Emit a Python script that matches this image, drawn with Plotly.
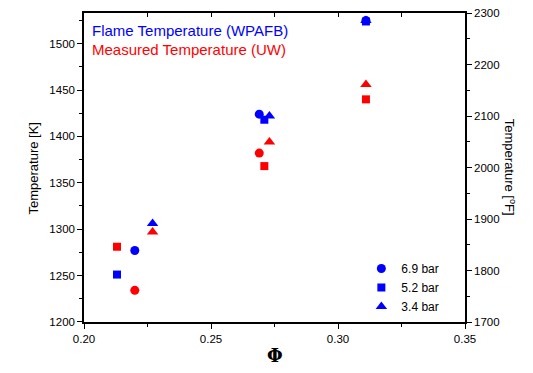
import plotly.graph_objects as go

# Data: equivalence ratio vs temperature [K]
pressures = ["6.9 bar", "5.2 bar", "3.4 bar"]
symbols = ["circle", "square", "triangle-up"]

flame_phi = {"6.9 bar": [0.220, 0.269, 0.311],
             "5.2 bar": [0.213, 0.271, 0.311],
             "3.4 bar": [0.227, 0.273, 0.311]}
flame_T = {"6.9 bar": [1277, 1424, 1525],
           "5.2 bar": [1251, 1418, 1524],
           "3.4 bar": [1306, 1422, 1525]}

meas_phi = {"6.9 bar": [0.220, 0.269],
            "5.2 bar": [0.213, 0.271, 0.311],
            "3.4 bar": [0.227, 0.273, 0.311]}
meas_T = {"6.9 bar": [1234, 1382],
          "5.2 bar": [1281, 1368, 1440],
          "3.4 bar": [1297, 1394, 1456]}

BLUE = "#0000ff"
RED = "#ff0000"
sizes = {"circle": 9, "square": 8, "triangle-up": 10}

fig = go.Figure()
for p, s in zip(pressures, symbols):
    fig.add_trace(go.Scatter(x=meas_phi[p], y=meas_T[p], mode="markers",
                             marker=dict(symbol=s, color=RED, size=sizes[s]),
                             showlegend=False))
for p, s in zip(pressures, symbols):
    fig.add_trace(go.Scatter(x=flame_phi[p], y=flame_T[p], mode="markers",
                             marker=dict(symbol=s, color=BLUE, size=sizes[s]),
                             showlegend=False))
for p, s in zip(pressures, symbols):
    fig.add_trace(go.Scatter(x=[None], y=[None], mode="markers", name=p,
                             marker=dict(symbol=s, color=BLUE, size=sizes[s])))
# dummy traces to activate secondary axes
fig.add_trace(go.Scatter(x=[None], y=[None], yaxis="y2", showlegend=False, hoverinfo="skip"))
fig.add_trace(go.Scatter(x=[None], y=[None], xaxis="x2", showlegend=False, hoverinfo="skip"))

FONT = "Liberation Sans, Arial, sans-serif"
tickfont = dict(family=FONT, size=11.5, color="black")
fmin, fmax = 1700, 2300
kmin, kmax = (fmin + 459.67) / 1.8, (fmax + 459.67) / 1.8

fig.update_layout(
    width=533, height=373,
    margin=dict(l=84, r=68, t=13, b=51),
    paper_bgcolor="white", plot_bgcolor="white",
    font=dict(family=FONT, size=12, color="black"),
    xaxis=dict(range=[0.20, 0.35], dtick=0.05, tickformat=".2f", automargin=False,
               showline=True, linecolor="black", linewidth=1.5,
               ticks="outside", ticklen=5, tickwidth=1, tickcolor="black",
               minor=dict(dtick=0.025, ticks="outside", ticklen=3, tickcolor="black"),
               showgrid=False, zeroline=False, tickfont=tickfont),
    xaxis2=dict(range=[0.20, 0.35], overlaying="x", side="top", dtick=0.025, automargin=False,
                showticklabels=False, showline=True, linecolor="black", linewidth=1.5,
                ticks="inside", ticklen=4, tickcolor="black", showgrid=False, zeroline=False),
    yaxis=dict(range=[kmin, kmax], dtick=50, tick0=1200, automargin=False,
               showline=True, linecolor="black", linewidth=1.5,
               ticks="outside", ticklen=5, tickcolor="black",
               minor=dict(dtick=25, ticks="outside", ticklen=3, tickcolor="black"),
               showgrid=False, zeroline=False, tickfont=tickfont),
    yaxis2=dict(range=[fmin, fmax], overlaying="y", side="right", dtick=100,
                tick0=1700, automargin=False,
                showline=True, linecolor="black", linewidth=1.5,
                ticks="outside", ticklen=5, tickcolor="black",
                minor=dict(dtick=50, ticks="outside", ticklen=3, tickcolor="black"),
                showgrid=False, zeroline=False, tickfont=tickfont),
    legend=dict(x=0.728, y=0.22, xanchor="left", yanchor="top",
                bgcolor="rgba(0,0,0,0)", font=dict(size=12),
                tracegroupgap=0, itemsizing="trace"),
    annotations=[
        dict(text="Flame Temperature (WPAFB)", x=0.016, y=0.944, xref="paper", yref="paper",
             xanchor="left", yanchor="middle", showarrow=False,
             font=dict(size=15, color=BLUE)),
        dict(text="Measured Temperature (UW)", x=0.016, y=0.883, xref="paper", yref="paper",
             xanchor="left", yanchor="middle", showarrow=False,
             font=dict(size=15, color=RED)),
        dict(text="Temperature [K]", x=(33 - 84) / (533 - 84 - 68), y=0.5,
             xref="paper", yref="paper",
             xanchor="center", yanchor="middle", showarrow=False, textangle=-90,
             font=dict(size=13, color="black")),
        dict(text="Temperature [<sup>o</sup>F]", x=1.12, y=0.5, xref="paper", yref="paper",
             xanchor="center", yanchor="middle", showarrow=False, textangle=90,
             font=dict(size=13, color="black")),
        dict(text="<b>Φ</b>", x=0.5, y=-0.107, xref="paper", yref="paper",
             xanchor="center", yanchor="middle", showarrow=False,
             font=dict(family="DejaVu Serif, serif", size=18, color="black")),
    ],
)

fig.write_html("out.html", config={"displayModeBar": False},
               post_script="document.body.style.margin='0';document.body.style.padding='0';")
